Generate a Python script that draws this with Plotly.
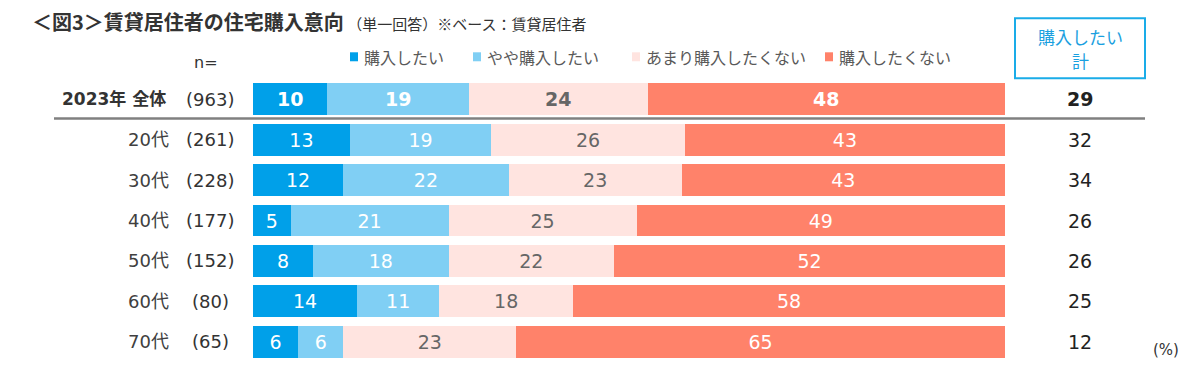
import plotly.graph_objects as go

categories = ["2023年 全体", "20代", "30代", "40代", "50代", "60代", "70代"]
n_labels = ["(963)", "(261)", "(228)", "(177)", "(152)", "(80)", "(65)"]
series_names = ["購入したい", "やや購入したい", "あまり購入したくない", "購入したくない"]
want = [10, 13, 12, 5, 8, 14, 6]
somewhat_want = [19, 19, 22, 21, 18, 11, 6]
not_really = [24, 26, 23, 25, 22, 18, 23]
not_want = [48, 43, 43, 49, 52, 58, 65]
total_want = [29, 32, 34, 26, 26, 25, 12]

colors = ["#00A0E9", "#80CFF4", "#FFE4E0", "#FF826A"]
text_colors = ["white", "white", "#666666", "white"]

W, H = 1193, 370
L, R, T, B = 253, 188, 78.75, 7.75
PW = W - L - R
PH = H - T - B


def px(x):
    return (x - L) / PW


def py(y):
    return (H - B - y) / PH


FONT = "DejaVu Sans, Noto Sans CJK JP, sans-serif"
JFONT = "Noto Sans CJK JP, sans-serif"
fig = go.Figure()
ys = list(range(len(categories)))
for name, vals, col, tcol in zip(series_names, [want, somewhat_want, not_really, not_want], colors, text_colors):
    texts = [f"<b>{v}</b>" if i == 0 else str(v) for i, v in enumerate(vals)]
    fig.add_trace(go.Bar(
        y=ys, x=vals, orientation="h", name=name,
        marker=dict(color=col, line=dict(width=0)),
        width=0.79,
        text=texts, textposition="inside", insidetextanchor="middle",
        textangle=0, constraintext="none",
        textfont=dict(color=tcol, size=19, family=FONT),
        showlegend=False, hoverinfo="skip",
    ))

fig.update_layout(
    width=W, height=H, barmode="stack", barnorm="percent",
    margin=dict(l=L, r=R, t=T, b=B),
    plot_bgcolor="white", paper_bgcolor="white",
    xaxis=dict(range=[0, 100], visible=False, fixedrange=True),
    yaxis=dict(range=[6.5, -0.5], visible=False, fixedrange=True),
    font=dict(family=FONT),
    uniformtext=dict(mode=False),
)

ann = []
# title
ann.append(dict(
    x=px(30), y=py(21), xref="paper", yref="paper", xanchor="left", yanchor="middle",
    text="<b>＜図3＞賃貸居住者の住宅購入意向</b><span style='font-size:15px'> （単一回答）※ベース：賃貸居住者</span>",
    font=dict(size=20, color="#333333", family=JFONT), showarrow=False))
ann.append(dict(x=px(206), y=py(62), xref="paper", yref="paper", xanchor="center", yanchor="middle",
                text="n=", font=dict(size=16, color="#333333", family=FONT), showarrow=False))

# legend
leg_sq = [350, 473, 632, 825]
for sx, name, col in zip(leg_sq, series_names, colors):
    fig.add_shape(type="rect", xref="paper", yref="paper",
                  x0=px(sx), x1=px(sx + 8), y0=py(61), y1=py(52),
                  fillcolor=col, line=dict(width=0))
    ann.append(dict(x=px(sx + 12), y=py(57), xref="paper", yref="paper",
                    xanchor="left", yanchor="middle", text=name,
                    font=dict(size=16, color="#595959", family=JFONT), showarrow=False))

# row labels
for i, (c, n) in enumerate(zip(categories, n_labels)):
    if i == 0:
        ann.append(dict(x=px(168), y=i, xref="paper", yref="y", xanchor="right", yanchor="middle",
                        text=f"<b>{c}</b>", font=dict(size=17, color="#333333", family=FONT), showarrow=False))
    else:
        ann.append(dict(x=px(171), y=i, xref="paper", yref="y", xanchor="right", yanchor="middle",
                        text=c, font=dict(size=18, color="#404040", family=FONT), showarrow=False))
    ann.append(dict(x=px(210), y=i, xref="paper", yref="y", xanchor="center", yanchor="middle",
                    text=n, font=dict(size=18, color="#333333", family=FONT), showarrow=False))
    t = f"<b>{total_want[i]}</b>" if i == 0 else str(total_want[i])
    ann.append(dict(x=px(1080), y=i, xref="paper", yref="y", xanchor="center", yanchor="middle",
                    text=t, font=dict(size=19, color="#222222", family=FONT), showarrow=False))

# header box
fig.add_shape(type="rect", xref="paper", yref="paper",
              x0=px(1015), x1=px(1145), y0=py(78), y1=py(18),
              line=dict(color="#1AACE8", width=2), fillcolor="white")
ann.append(dict(x=px(1080), y=py(36), xref="paper", yref="paper", xanchor="center", yanchor="middle",
                text="購入したい", font=dict(size=17, color="#1AA0E0", family=JFONT), showarrow=False))
ann.append(dict(x=px(1080), y=py(60), xref="paper", yref="paper", xanchor="center", yanchor="middle",
                text="計", font=dict(size=17, color="#1AA0E0", family=JFONT), showarrow=False))
ann.append(dict(x=px(1166), y=py(350), xref="paper", yref="paper", xanchor="center", yanchor="middle",
                text="(%)", font=dict(size=15, color="#333333", family=FONT), showarrow=False))

# separator
fig.add_shape(type="line", xref="paper", yref="y", x0=px(54), x1=px(1145), y0=0.48, y1=0.48,
              line=dict(color="#808080", width=2.5))

fig.update_layout(annotations=ann)
fig.write_html("out.html", post_script="document.body.style.margin='0';",
               config={"displayModeBar": False})
